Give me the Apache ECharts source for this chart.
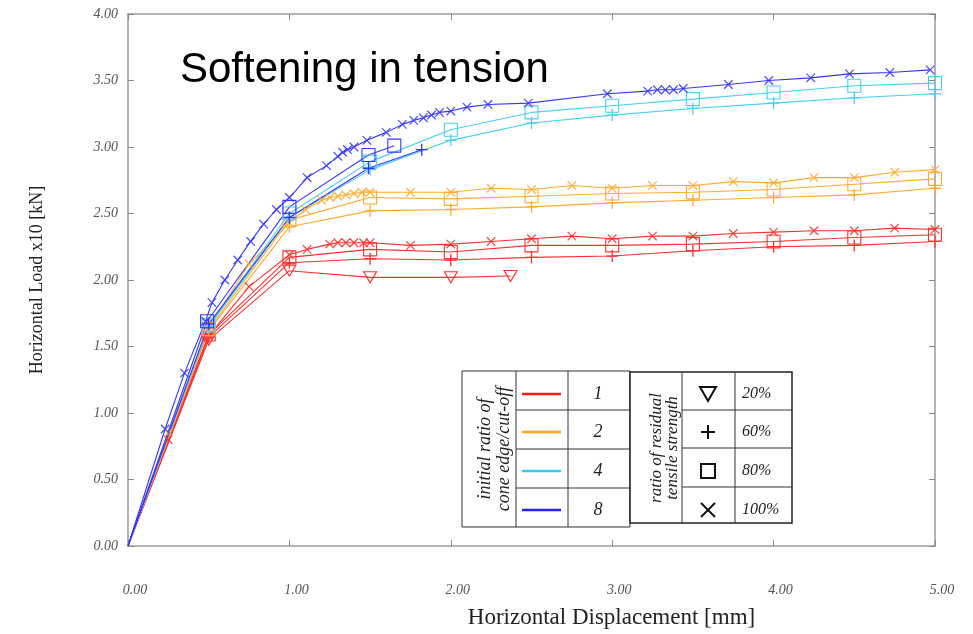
<!DOCTYPE html>
<html><head><meta charset="utf-8">
<script src="https://cdn.jsdelivr.net/npm/echarts@6/dist/echarts.min.js"></script>
<style>html,body{margin:0;padding:0;background:#fff}#c{width:973px;height:634px}</style>
</head><body><div id="c"></div>
<script>
// ---- data (x = horizontal displacement [mm], y = horizontal load x10 [kN]) ----
const xTickValues = [0, 1, 2, 3, 4, 5];
const yTickValues = [0, 0.5, 1, 1.5, 2, 2.5, 3, 3.5, 4];

// ratio 1 (red)
const red20 = [[0,0],[0.5,1.55],[1.0,2.07],[1.5,2.02],[2.0,2.02],[2.37,2.03]];
const red60 = [[0,0],[0.5,1.57],[1.0,2.13],[1.5,2.16],[2.0,2.15],[2.5,2.17],[3.0,2.18],[3.5,2.22],[4.0,2.25],[4.5,2.26],[5.0,2.29]];
const red80 = [[0,0],[0.5,1.59],[1.0,2.17],[1.5,2.23],[2.0,2.21],[2.5,2.26],[3.0,2.26],[3.5,2.27],[4.0,2.29],[4.5,2.32],[5.0,2.34]];
const red100 = [[0,0],[0.25,0.8],[0.5,1.58],[0.75,1.95],[1.0,2.19],[1.11,2.23],[1.25,2.27],[1.3,2.28],[1.35,2.28],[1.4,2.28],[1.46,2.28],[1.5,2.28],[1.75,2.26],[2.0,2.27],[2.25,2.29],[2.5,2.31],[2.75,2.33],[3.0,2.31],[3.25,2.33],[3.5,2.33],[3.75,2.35],[4.0,2.36],[4.25,2.37],[4.5,2.37],[4.75,2.39],[5.0,2.38]];
// ratio 2 (orange)
const orange60 = [[0,0],[0.5,1.62],[1.0,2.40],[1.5,2.52],[2.0,2.53],[2.5,2.55],[3.0,2.58],[3.5,2.60],[4.0,2.62],[4.5,2.64],[5.0,2.69]];
const orange80 = [[0,0],[0.5,1.63],[1.0,2.45],[1.5,2.62],[2.0,2.61],[2.5,2.63],[3.0,2.65],[3.5,2.66],[4.0,2.68],[4.5,2.72],[5.0,2.76]];
const orange100 = [[0,0],[0.25,0.85],[0.5,1.64],[0.75,2.12],[1.0,2.43],[1.1,2.53],[1.2,2.6],[1.25,2.62],[1.3,2.63],[1.35,2.64],[1.4,2.65],[1.45,2.66],[1.5,2.66],[1.75,2.66],[2.0,2.66],[2.25,2.69],[2.5,2.68],[2.75,2.71],[3.0,2.69],[3.25,2.71],[3.5,2.71],[3.75,2.74],[4.0,2.73],[4.25,2.77],[4.5,2.77],[4.75,2.81],[5.0,2.83]];
// ratio 4 (cyan)
const cyan60 = [[0,0],[0.5,1.65],[1.0,2.47],[1.5,2.83],[2.0,3.05],[2.5,3.18],[3.0,3.24],[3.5,3.29],[4.0,3.33],[4.5,3.37],[5.0,3.40]];
const cyan80 = [[0,0],[0.5,1.66],[1.0,2.50],[1.5,2.89],[2.0,3.13],[2.5,3.26],[3.0,3.31],[3.5,3.36],[4.0,3.41],[4.5,3.46],[5.0,3.48]];
// ratio 8 (blue)
const blue60 = [[0,0],[0.5,1.67],[1.0,2.47],[1.49,2.84],[1.82,2.98]];
const blue80 = [[0,0],[0.49,1.69],[1.0,2.55],[1.49,2.94],[1.65,3.01]];
const blue100 = [[0,0],[0.23,0.88],[0.35,1.30],[0.48,1.69],[0.52,1.83],[0.6,2.0],[0.68,2.15],[0.76,2.29],[0.84,2.42],[0.92,2.53],[1.0,2.62],[1.11,2.77],[1.23,2.86],[1.3,2.93],[1.33,2.96],[1.36,2.98],[1.4,3.0],[1.48,3.05],[1.6,3.11],[1.7,3.17],[1.77,3.20],[1.83,3.22],[1.88,3.24],[1.93,3.26],[2.0,3.27],[2.1,3.30],[2.23,3.32],[2.48,3.33],[2.97,3.40],[3.22,3.42],[3.28,3.43],[3.33,3.43],[3.38,3.43],[3.44,3.44],[3.72,3.47],[3.97,3.50],[4.23,3.52],[4.47,3.55],[4.72,3.56],[4.97,3.58]];

const edgeRatioLabels = ['1', '2', '4', '8'];
const strengthLabels = ['20%', '60%', '80%', '100%'];
const titleText = 'Softening in tension';

// ---- styling ----
const RED = '#ff3030', ORANGE = '#ffaa30', CYAN = '#45d0f2', BLUE = '#3535ff';
const LEG = ['#ff1a1a', '#ffa020', '#30ccf5', '#2222ee'];
const PLUS = 'path://M4.45,0h1.1v4.45h4.45v1.1h-4.45v4.45h-1.1v-4.45h-4.45v-1.1h4.45z';

function markStyle(kind, color) {
  if (kind === 'tri') return {symbol: 'triangle', symbolSize: [13, 11], symbolRotate: 180,
    itemStyle: {color: 'rgba(255,255,255,0)', borderColor: color, borderWidth: 1.1}};
  if (kind === 'sq') return {symbol: 'rect', symbolSize: 13, symbolRotate: 0,
    itemStyle: {color: 'rgba(255,255,255,0)', borderColor: color, borderWidth: 1.1}};
  if (kind === 'plus') return {symbol: PLUS, symbolSize: 12, symbolRotate: 0,
    itemStyle: {color: color, borderWidth: 0}};
  return {symbol: PLUS, symbolSize: 12, symbolRotate: 45, itemStyle: {color: color, borderWidth: 0, opacity: 0.85}};
}

const defs = [
  ['1-20%', red20, RED, 'tri'], ['1-60%', red60, RED, 'plus'], ['1-80%', red80, RED, 'sq'], ['1-100%', red100, RED, 'x'],
  ['2-60%', orange60, ORANGE, 'plus'], ['2-80%', orange80, ORANGE, 'sq'], ['2-100%', orange100, ORANGE, 'x'],
  ['4-60%', cyan60, CYAN, 'plus'], ['4-80%', cyan80, CYAN, 'sq'],
  ['8-60%', blue60, BLUE, 'plus'], ['8-80%', blue80, BLUE, 'sq'], ['8-100%', blue100, BLUE, 'x']
];

const series = defs.map(([name, data, color, kind]) => Object.assign({
  name, type: 'line', xAxisIndex: 0, yAxisIndex: 0,
  data: data.map((p, i) => i === 0 ? {value: p, symbol: 'none'} : p),
  showSymbol: true, lineStyle: {color: color, width: 1.1},
  emphasis: {disabled: true}
}, markStyle(kind, color)));

const serif = '"Liberation Serif", "Times New Roman", serif';
const tickLab = {fontFamily: serif, fontStyle: 'italic', fontSize: 14, color: '#555'};
const frame = {show: true, onZero: false, lineStyle: {color: '#9a9a9a', width: 1.5}};
const ticks = {show: true, inside: true, length: 6, lineStyle: {color: '#888', width: 1}};

// ---- legend table (graphic) ----
const g = [];
const L = (x1, y1, x2, y2, c, w) => g.push({type: 'line', shape: {x1, y1, x2, y2}, style: {stroke: c || '#333', lineWidth: w || 1}, silent: true});
const T = (x, y, text, opt) => g.push(Object.assign({type: 'text', x, y, silent: true,
  style: Object.assign({text, fill: '#222', font: 'italic 17px ' + serif, align: 'center', verticalAlign: 'middle'}, opt && opt.style)}, opt && opt.el));
// left table
g.push({type: 'rect', shape: {x: 462, y: 371, width: 168, height: 156}, style: {fill: '#fff', stroke: '#333', lineWidth: 1}, silent: true});
L(516, 371, 516, 527); L(568, 371, 568, 527);
[410, 449, 488].forEach(y => L(516, y, 630, y));
const rowC = [394, 432, 471, 510];
edgeRatioLabels.forEach((t, i) => {
  L(522, rowC[i], 561, rowC[i], LEG[i], 2.5);
  T(598, rowC[i], t, {style: {font: 'italic 18px ' + serif}});
});
T(495, 449, 'initial ratio of\ncone edge/cut-off', {el: {rotation: Math.PI / 2}, style: {font: 'italic 18px ' + serif, lineHeight: 19}});
// right table
g.push({type: 'rect', shape: {x: 630, y: 372, width: 162, height: 151}, style: {fill: '#fff', stroke: '#222', lineWidth: 1.5}, silent: true});
L(682, 372, 682, 523); L(735, 372, 735, 523);
[410, 448, 487].forEach(y => L(682, y, 792, y));
T(665, 448, 'ratio of residual\ntensile strength', {el: {rotation: Math.PI / 2}, style: {font: 'italic 17px ' + serif, lineHeight: 16}});
const sx = 708;
g.push({type: 'polygon', shape: {points: [[sx - 8, rowC[0] - 7], [sx + 8, rowC[0] - 7], [sx, rowC[0] + 7]]}, style: {fill: 'none', stroke: '#111', lineWidth: 2}, silent: true});
L(sx - 7, rowC[1], sx + 7, rowC[1], '#111', 2); L(sx, rowC[1] - 7, sx, rowC[1] + 7, '#111', 2);
g.push({type: 'rect', shape: {x: sx - 7, y: rowC[2] - 7, width: 14, height: 14}, style: {fill: 'none', stroke: '#111', lineWidth: 2}, silent: true});
L(sx - 7, rowC[3] - 7, sx + 7, rowC[3] + 7, '#111', 2); L(sx - 7, rowC[3] + 7, sx + 7, rowC[3] - 7, '#111', 2);
strengthLabels.forEach((t, i) => T(742, rowC[i], t, {style: {align: 'left', font: 'italic 16px ' + serif}}));
// title
g.push({type: 'text', x: 180, y: 70, silent: true,
  style: {text: titleText, font: '42px "Liberation Sans", Arial, sans-serif', fill: '#000', align: 'left', verticalAlign: 'middle'}});

const chart = echarts.init(document.getElementById('c'), null, {renderer: 'canvas'});
chart.setOption({
  animation: false,
  backgroundColor: '#fff',
  grid: {left: 128, right: 38, top: 14, bottom: 83, containLabel: false},
  xAxis: [
    {type: 'value', min: xTickValues[0], max: xTickValues[xTickValues.length - 1], interval: 1, position: 'bottom',
     axisLine: frame, axisTick: ticks, splitLine: {show: false},
     axisLabel: Object.assign({margin: 37, padding: [0, 0, 0, 14], formatter: v => v.toFixed(2)}, tickLab),
     name: 'Horizontal Displacement [mm]', nameLocation: 'middle', nameGap: 60,
     nameTextStyle: {fontFamily: serif, fontSize: 23, color: '#222', padding: [0, 0, 0, 160]}},
    {type: 'value', min: xTickValues[0], max: xTickValues[xTickValues.length - 1], interval: 1, position: 'top',
     axisLine: frame, axisTick: ticks, axisLabel: {show: false}, splitLine: {show: false}}
  ],
  yAxis: [
    {type: 'value', min: yTickValues[0], max: yTickValues[yTickValues.length - 1], interval: 0.5, position: 'left',
     axisLine: frame, axisTick: ticks, splitLine: {show: false},
     axisLabel: Object.assign({margin: 10, formatter: v => v.toFixed(2)}, tickLab),
     name: 'Horizontal Load x10 [kN]', nameLocation: 'middle', nameGap: 82,
     nameTextStyle: {fontFamily: serif, fontSize: 18, color: '#222'}},
    {type: 'value', min: yTickValues[0], max: yTickValues[yTickValues.length - 1], interval: 0.5, position: 'right',
     axisLine: frame, axisTick: ticks, axisLabel: {show: false}, splitLine: {show: false}}
  ],
  graphic: g,
  series: series
});
</script></body></html>
